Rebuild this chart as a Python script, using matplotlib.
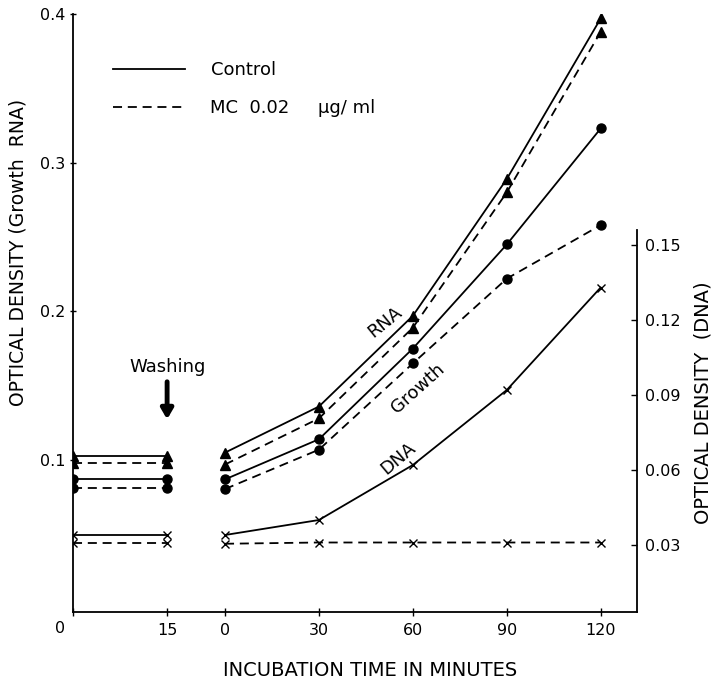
import matplotlib
matplotlib.use("Agg")
import matplotlib.pyplot as plt
from matplotlib.lines import Line2D

plt.rcParams['font.family'] = ['DejaVu Sans']

# ---- data ----
pre_minutes = [0, 15]
post_minutes = [0, 30, 60, 90, 120]

rna_ctrl_pre = [0.103, 0.103]
rna_mc_pre = [0.098, 0.098]
growth_ctrl_pre = [0.087, 0.087]
growth_mc_pre = [0.081, 0.081]
dna_ctrl_pre = [0.034, 0.034]
dna_mc_pre = [0.031, 0.031]

rna_ctrl = [0.105, 0.136, 0.197, 0.289, 0.397]
rna_mc = [0.097, 0.128, 0.189, 0.280, 0.388]
growth_ctrl = [0.087, 0.114, 0.175, 0.245, 0.323]
growth_mc = [0.0805, 0.107, 0.165, 0.222, 0.258]
dna_ctrl = [0.034, 0.040, 0.062, 0.092, 0.133]
dna_mc = [0.0305, 0.031, 0.031, 0.031, 0.031]

left_ticks = [0.1, 0.2, 0.3, 0.4]
right_ticks = [0.03, 0.06, 0.09, 0.12, 0.15]
x_tick_labels = ['0', '15', '0', '30', '60', '90', '120']

# ---- layout: pre-wash segment drawn at a different scale ----
PRE_OFFSET = -48.5
PRE_SCALE = 2.0
pre_x = [PRE_OFFSET + PRE_SCALE * m for m in pre_minutes]
post_x = list(post_minutes)

fig = plt.figure(figsize=(7.14, 6.84), dpi=100)
ax = fig.add_axes([73/714, 1-611.7/684, (637-73)/714, (611.7-14)/684])
ax2 = ax.twinx()

lw = 1.3
dash = (0, (5, 3.2))
ms_tri = 7
ms_cir = 6.5

for xs, segs in [(pre_x, [rna_ctrl_pre, rna_mc_pre, growth_ctrl_pre, growth_mc_pre]),
                 (post_x, [rna_ctrl, rna_mc, growth_ctrl, growth_mc])]:
    ax.plot(xs, segs[0], color='black', lw=lw, ls='-', marker='^', ms=ms_tri)
    ax.plot(xs, segs[1], color='black', lw=lw, ls=dash, marker='^', ms=ms_tri)
    ax.plot(xs, segs[2], color='black', lw=lw, ls='-', marker='o', ms=ms_cir)
    ax.plot(xs, segs[3], color='black', lw=lw, ls=dash, marker='o', ms=ms_cir)

for xs, c, m in [(pre_x, dna_ctrl_pre, dna_mc_pre), (post_x, dna_ctrl, dna_mc)]:
    ax2.plot(xs, c, color='black', lw=lw, ls='-', marker='x', ms=6, mew=1.0)
    ax2.plot(xs, m, color='black', lw=lw, ls=dash, marker='x', ms=6, mew=1.0)

ax.set_xlim(-48.56, 131.6)
ax.set_ylim(-0.002, 0.4)
ax2.set_ylim(0.00332, 0.2424)

for s in ['top', 'right']:
    ax.spines[s].set_visible(False)
for s in ['top', 'left', 'bottom']:
    ax2.spines[s].set_visible(False)
ax2.spines['right'].set_bounds(0.00332, 0.156)
for sp in [ax.spines['left'], ax.spines['bottom'], ax2.spines['right']]:
    sp.set_linewidth(1.3)

ax.set_yticks(left_ticks)
ax.set_yticklabels(['0.1', '0.2', '0.3', '0.4'], fontsize=11.5)
ax.tick_params(axis='y', direction='inout', length=5, width=1, pad=3)

xt = [pre_x[0], pre_x[1]] + post_x
ax.set_xticks(xt)
ax.set_xticklabels([''] + x_tick_labels[1:], fontsize=11.5)
ax.tick_params(axis='x', direction='inout', length=6, width=1, pad=5)
ax.text(-52.7, -0.013, x_tick_labels[0], fontsize=11.5, ha='center', va='center')

ax2.set_yticks(right_ticks)
ax2.set_yticklabels(['0.03', '0.06', '0.09', '0.12', '0.15'], fontsize=11.5)
ax2.tick_params(axis='y', direction='in', length=4, width=1, pad=6)

fig.text(370/714, 1-670/684, 'INCUBATION TIME IN MINUTES', fontsize=14,
         ha='center', va='center')
fig.text(18/714, 1-252/684, 'OPTICAL DENSITY (Growth  RNA)', rotation=90,
         fontsize=13.5, ha='center', va='center')
fig.text(703/714, 1-403/684, 'OPTICAL DENSITY  (DNA)', rotation=90,
         fontsize=14, ha='center', va='center')

# curve labels
ax.text(51.1, 0.193, 'RNA', rotation=39, fontsize=13, ha='center', va='center')
ax.text(61.7, 0.148, 'Growth', rotation=42, fontsize=13, ha='center', va='center')
ax.text(55.3, 0.101, 'DNA', rotation=40, fontsize=13, ha='center', va='center')

# washing arrow
ax.text(pre_x[1], 0.1625, 'Washing', fontsize=13, ha='center', va='center')
ax.annotate('', xy=(pre_x[1], 0.1255), xytext=(pre_x[1], 0.1545),
            arrowprops=dict(arrowstyle='-|>,head_width=0.35,head_length=0.6',
                            lw=3.5, color='black'))

# legend
handles = [Line2D([], [], color='black', lw=lw, ls='-'),
           Line2D([], [], color='black', lw=lw, ls=dash)]
ax.legend(handles, ['Control', 'MC  0.02     \u03bcg/ ml'], loc='upper left',
          bbox_to_anchor=((113-73)/564, 1-(61-14)/597.7), frameon=False,
          fontsize=13, handlelength=4.0, handletextpad=1.4, labelspacing=1.13,
          borderpad=0, borderaxespad=0)

fig.savefig('out.png', dpi=100)
